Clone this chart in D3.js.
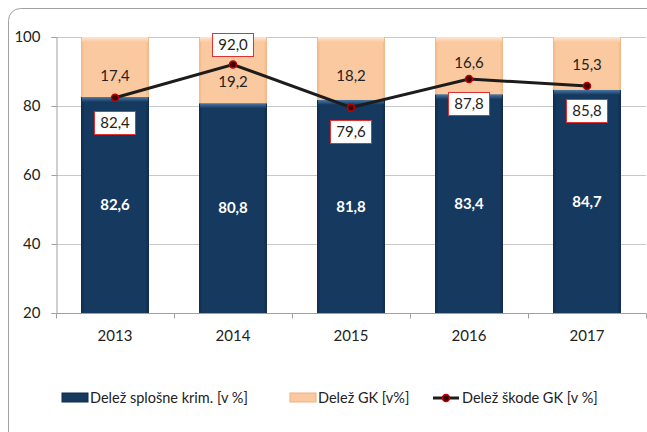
<!DOCTYPE html>
<html>
<head>
<meta charset="utf-8">
<script src="https://cdn.jsdelivr.net/npm/d3@7"></script>
<style>
  body { margin: 0; background: #fff; }
  svg text { font-family: Lato, "Open Sans", sans-serif; fill: #222; }
</style>
</head>
<body>
<div class="chart"></div>
<script>
var years = ["2013", "2014", "2015", "2016", "2017"];
var splosne = [82.6, 80.8, 81.8, 83.4, 84.7];
var gk = [17.4, 19.2, 18.2, 16.6, 15.3];
var skode = [82.4, 92.0, 79.6, 87.8, 85.8];
var yTicks = [20, 40, 60, 80, 100];
// where the red-boxed label sits: below or above the point
var skodeLabelPos = ["below", "above", "below", "below", "below"];
// small manual nudges for the peach labels, as in the source (px)
var gkNudge = [9, 12, 7, -3, 1];

var width = 647, height = 432;
var margin = {top: 37, right: 1, bottom: 119, left: 56};

var svg = d3.select(".chart").append("svg")
  .attr("width", width)
  .attr("height", height);

var defs = svg.append("defs");

function hGrad(id, edge, body) {
  var g = defs.append("linearGradient").attr("id", id)
    .attr("x1", 0).attr("y1", 0).attr("x2", 1).attr("y2", 0);
  g.append("stop").attr("offset", "0%").attr("stop-color", edge);
  g.append("stop").attr("offset", "5%").attr("stop-color", body);
  g.append("stop").attr("offset", "95%").attr("stop-color", body);
  g.append("stop").attr("offset", "100%").attr("stop-color", edge);
}
function vGrad(id, from, to) {
  var g = defs.append("linearGradient").attr("id", id)
    .attr("x1", 0).attr("y1", 0).attr("x2", 0).attr("y2", 1);
  g.append("stop").attr("offset", "0%").attr("stop-color", from);
  g.append("stop").attr("offset", "100%").attr("stop-color", to);
}
hGrad("navyH", "#0e2a4c", "#16395f");
hGrad("peachH", "#f1b684", "#fbc9a0");
vGrad("navyTop", "#4a7aa8", "#16395f");
vGrad("peachTop", "#fde6d2", "#fbc9a0");

// outer chart frame (runs past the right and bottom edges)
svg.append("rect")
  .attr("x", 8.5).attr("y", 8.5)
  .attr("width", 660).attr("height", 450)
  .attr("rx", 12)
  .attr("fill", "none")
  .attr("stroke", "#a0a0a0");

var x = d3.scaleBand()
  .domain(years)
  .range([margin.left, width - margin.right])
  .paddingInner(0.424)
  .paddingOuter(0.212);

var y = d3.scaleLinear()
  .domain([20, 100])
  .range([height - margin.bottom, margin.top]);

// gridlines
svg.append("g")
  .selectAll("line")
  .data(yTicks.filter(d => d > 20))
  .enter().append("line")
  .attr("x1", margin.left).attr("x2", width - margin.right)
  .attr("y1", d => Math.round(y(d)) + 0.5).attr("y2", d => Math.round(y(d)) + 0.5)
  .attr("stroke", "#c8c8c8");

// y axis
var yAxis = svg.append("g")
  .attr("transform", `translate(${margin.left + 0.5},0)`)
  .call(d3.axisLeft(y).tickValues(yTicks).tickSize(5).tickPadding(11).tickFormat(d3.format("d")));
yAxis.select(".domain").attr("stroke", "#a0a0a0");
yAxis.selectAll(".tick line").attr("stroke", "#a0a0a0");
yAxis.selectAll("text").style("font-size", "15px").attr("fill", "#222");

var bars = svg.append("g");
var bw = x.bandwidth();

// navy segments
bars.selectAll("rect.splosne")
  .data(years)
  .enter().append("rect")
  .attr("class", "splosne")
  .attr("x", d => x(d))
  .attr("width", bw)
  .attr("y", (d, i) => y(splosne[i]))
  .attr("height", (d, i) => y(20) - y(splosne[i]))
  .attr("fill", "url(#navyH)");
bars.selectAll("rect.splosneTop")
  .data(years)
  .enter().append("rect")
  .attr("x", d => x(d) + 1)
  .attr("width", bw - 2)
  .attr("y", (d, i) => y(splosne[i]))
  .attr("height", 5)
  .attr("fill", "url(#navyTop)");

// peach segments
bars.selectAll("rect.gk")
  .data(years)
  .enter().append("rect")
  .attr("class", "gk")
  .attr("x", d => x(d))
  .attr("width", bw)
  .attr("y", (d, i) => y(splosne[i] + gk[i]))
  .attr("height", (d, i) => y(splosne[i]) - y(splosne[i] + gk[i]))
  .attr("fill", "url(#peachH)");
bars.selectAll("rect.gkTop")
  .data(years)
  .enter().append("rect")
  .attr("x", d => x(d) + 1)
  .attr("width", bw - 2)
  .attr("y", (d, i) => y(splosne[i] + gk[i]))
  .attr("height", 5)
  .attr("fill", "url(#peachTop)");

// x axis
var xAxis = svg.append("g")
  .attr("transform", `translate(0,${Math.round(y(20)) + 0.5})`);
xAxis.append("line")
  .attr("x1", margin.left).attr("x2", width - margin.right)
  .attr("stroke", "#a0a0a0");
var step = x.step();
xAxis.selectAll("line.tick")
  .data(d3.range(years.length + 1))
  .enter().append("line")
  .attr("x1", i => Math.round(margin.left + i * step) + 0.5)
  .attr("x2", i => Math.round(margin.left + i * step) + 0.5)
  .attr("y1", 0).attr("y2", 5)
  .attr("stroke", "#a0a0a0");
xAxis.selectAll("text")
  .data(years)
  .enter().append("text")
  .attr("x", d => x(d) + bw / 2)
  .attr("y", 27)
  .attr("text-anchor", "middle")
  .style("font-size", "15px")
  .text(d => d);

var fmt = v => d3.format(".1f")(v).replace(".", ",");

// labels in navy
svg.append("g").selectAll("text")
  .data(years)
  .enter().append("text")
  .attr("x", d => x(d) + bw / 2)
  .attr("y", (d, i) => y((20 + splosne[i]) / 2))
  .attr("dy", "0.35em")
  .attr("text-anchor", "middle")
  .style("font-size", "15px")
  .style("font-weight", "bold")
  .style("fill", "#fff")
  .text((d, i) => fmt(splosne[i]));

// labels in peach
svg.append("g").selectAll("text")
  .data(years)
  .enter().append("text")
  .attr("x", d => x(d) + bw / 2)
  .attr("y", (d, i) => y(splosne[i] + gk[i] / 2) + gkNudge[i])
  .attr("dy", "0.35em")
  .attr("text-anchor", "middle")
  .style("font-size", "15px")
  .text((d, i) => fmt(gk[i]));

// line
var line = d3.line()
  .x((d, i) => x(years[i]) + bw / 2)
  .y(d => y(d));
svg.append("path")
  .datum(skode)
  .attr("d", line)
  .attr("fill", "none")
  .attr("stroke", "#1c1c1c")
  .attr("stroke-width", 3);

svg.append("g").selectAll("circle")
  .data(skode)
  .enter().append("circle")
  .attr("cx", (d, i) => x(years[i]) + bw / 2)
  .attr("cy", d => y(d))
  .attr("r", 3.5)
  .attr("fill", "#3a0000")
  .attr("stroke", "#c00000")
  .attr("stroke-width", 1.5);

// boxed labels for the line
var lbl = svg.append("g").selectAll("g")
  .data(skode)
  .enter().append("g")
  .attr("transform", (d, i) => {
    var cy = y(d) + (skodeLabelPos[i] === "above" ? -20 : 25);
    return `translate(${Math.round(x(years[i]) + bw / 2)},${Math.round(cy)})`;
  });
lbl.append("rect")
  .attr("x", -20.5).attr("y", -11.5)
  .attr("width", 41).attr("height", 23)
  .attr("fill", "#fff")
  .attr("stroke", "#e03030");
lbl.append("text")
  .attr("text-anchor", "middle")
  .attr("dy", "0.35em")
  .style("font-size", "15px")
  .text(d => fmt(d));

// legend
var legend = svg.append("g").attr("transform", "translate(0,398)");
legend.append("rect")
  .attr("x", 62).attr("y", -5).attr("width", 26).attr("height", 9)
  .attr("fill", "#16395f").attr("stroke", "#0e2a4c");
legend.append("text").attr("x", 90).attr("dy", "0.35em")
  .style("font-size", "14.5px").text("Delež splošne krim. [v %]");
legend.append("rect")
  .attr("x", 290).attr("y", -5).attr("width", 26).attr("height", 9)
  .attr("fill", "#fbc9a0").attr("stroke", "#f0b080");
legend.append("text").attr("x", 318).attr("dy", "0.35em")
  .style("font-size", "14.5px").text("Delež GK [v%]");
legend.append("line")
  .attr("x1", 433).attr("x2", 459).attr("y1", 0).attr("y2", 0)
  .attr("stroke", "#1c1c1c").attr("stroke-width", 3);
legend.append("circle")
  .attr("cx", 446).attr("cy", 0).attr("r", 3.5)
  .attr("fill", "#3a0000").attr("stroke", "#c00000").attr("stroke-width", 1.5);
legend.append("text").attr("x", 462).attr("dy", "0.35em")
  .style("font-size", "14.5px").text("Delež škode GK [v %]");
</script>
</body>
</html>
